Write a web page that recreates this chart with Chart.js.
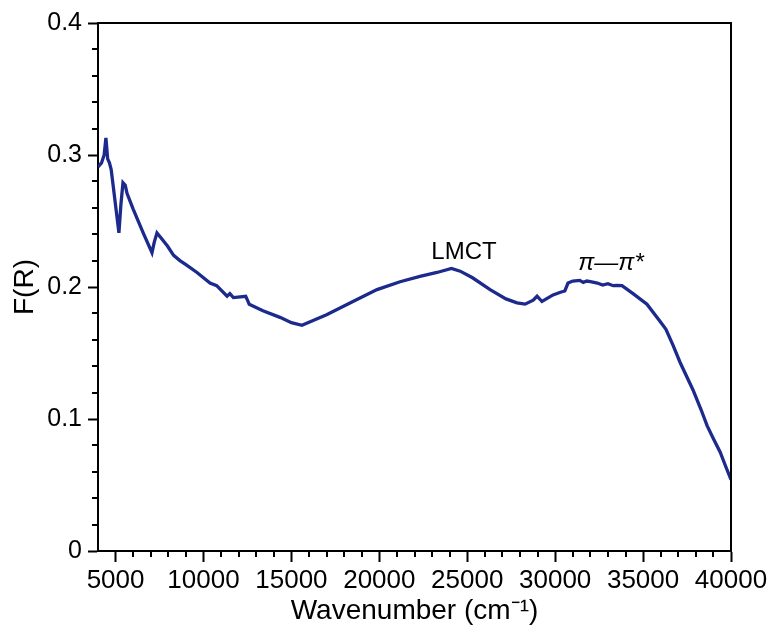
<!DOCTYPE html>
<html>
<head>
<meta charset="utf-8">
<script src="https://cdn.jsdelivr.net/npm/chart.js@4.4.0/dist/chart.umd.min.js"></script>
<style>
  body { margin: 0; background: #fff; }
  #wrap { width: 772px; height: 632px; }
</style>
</head>
<body>
<div id="wrap"><canvas id="spectrumChart" width="772" height="632"></canvas></div>
<script>
// Kubelka-Munk spectrum, values
const wavenumber = [
  4000, 4200, 4350, 4450, 4550, 4650, 4750, 5190, 5300, 5420,
  5550, 5650, 6000, 6570, 7070, 7200, 7355, 7600, 7950, 8300,
  8660, 9000, 9630, 10370, 10750, 11340, 11500, 11700, 12400, 12500,
  12600, 13380, 14350, 15000, 15600, 16300, 17000, 18500, 19870, 21180,
  22310, 23280, 24100, 24600, 25300, 26300, 27200, 27830, 28290, 28750,
  28970, 29250, 29880, 30300, 30550, 30730, 31000, 31400, 31600, 31800,
  32000, 32400, 32700, 33000, 33300, 33500, 33800, 34430, 35220, 35960,
  36300, 36700, 37100, 37840, 38300, 38640, 39000, 39380, 39700, 40000
];
const fr = [
  0.291, 0.294, 0.300, 0.313, 0.297, 0.294, 0.289, 0.241, 0.262, 0.279,
  0.277, 0.271, 0.259, 0.241, 0.226, 0.234, 0.241, 0.237, 0.231, 0.224,
  0.220, 0.217, 0.211, 0.203, 0.201, 0.193, 0.195, 0.192, 0.193, 0.190,
  0.187, 0.182, 0.177, 0.173, 0.171, 0.175, 0.179, 0.189, 0.198, 0.204,
  0.208, 0.211, 0.214, 0.212, 0.207, 0.198, 0.191, 0.188, 0.187, 0.190,
  0.193, 0.189, 0.194, 0.196, 0.197, 0.203, 0.2045, 0.205, 0.2035, 0.2045,
  0.204, 0.203, 0.2015, 0.2025, 0.201, 0.2012, 0.201, 0.195, 0.187, 0.174,
  0.168, 0.156, 0.143, 0.122, 0.107, 0.095, 0.085, 0.075, 0.064, 0.054
];

const xMajorTicks = [5000, 10000, 15000, 20000, 25000, 30000, 35000, 40000];
const yMajorTicks = [0, 0.1, 0.2, 0.3, 0.4];

// band labels placed in data coordinates (baseline)
const bandLabels = ['LMCT', 'π—π*'];
const bandX = [24815, 33176];
const bandY = [0.221, 0.213];
const bandItalic = [false, true];

const lineColor = '#1b2a8c';
const fontFamily = '"Liberation Sans", Arial, Helvetica, sans-serif';

// box around plot, minor ticks and band labels
const framePlugin = {
  id: 'frame',
  afterDatasetsDraw(chart) {
    const { ctx, chartArea, scales } = chart;
    const xs = scales.x;
    const ys = scales.y;
    ctx.save();
    ctx.strokeStyle = '#000';
    ctx.lineWidth = 2;
    ctx.beginPath();
    ctx.moveTo(chartArea.left, chartArea.top);
    ctx.lineTo(chartArea.right, chartArea.top);
    ctx.lineTo(chartArea.right, chartArea.bottom);
    ctx.stroke();

    ctx.beginPath();
    for (let v = 4000; v <= 40000; v += 1000) {
      if (v % 5000 === 0 || v === 4000) continue;
      const px = Math.round(xs.getPixelForValue(v));
      ctx.moveTo(px, chartArea.bottom);
      ctx.lineTo(px, chartArea.bottom + 6);
    }
    for (let i = 1; i < 20; i++) {
      if (i % 5 === 0) continue;
      const py = Math.round(ys.getPixelForValue(i * 0.02));
      ctx.moveTo(chartArea.left, py);
      ctx.lineTo(chartArea.left - 6, py);
    }
    ctx.stroke();

    ctx.fillStyle = '#000';
    ctx.textAlign = 'center';
    ctx.textBaseline = 'alphabetic';
    bandLabels.forEach((label, i) => {
      ctx.font = (bandItalic[i] ? 'italic ' : '') + '24px ' + fontFamily;
      ctx.fillText(label, xs.getPixelForValue(bandX[i]), ys.getPixelForValue(bandY[i]));
    });
    ctx.restore();
  }
};

const ctx = document.getElementById('spectrumChart');
new Chart(ctx, {
  type: 'line',
  data: {
    datasets: [{
      data: wavenumber.map((x, i) => ({ x: x, y: fr[i] })),
      borderColor: lineColor,
      borderWidth: 3.3,
      pointRadius: 0,
      fill: false,
      tension: 0,
    }]
  },
  options: {
    responsive: false,
    devicePixelRatio: 1,
    animation: false,
    layout: { padding: { top: 23, right: 41, bottom: 0, left: 0 } },
    plugins: {
      legend: { display: false },
      tooltip: { enabled: false },
    },
    scales: {
      x: {
        type: 'linear',
        min: 4000,
        max: 40000,
        afterBuildTicks: (scale) => {
          scale.ticks = xMajorTicks.map((v) => ({ value: v }));
        },
        afterFit: (scale) => { scale.height = 81; },
        grid: {
          drawOnChartArea: false,
          drawTicks: true,
          tickLength: 11,
          tickWidth: 2,
          tickColor: '#000',
        },
        border: { display: true, color: '#000', width: 2 },
        ticks: {
          color: '#000',
          padding: 3,
          maxRotation: 0,
          autoSkip: false,
          font: { family: fontFamily, size: 26 },
          callback: (v) => String(v),
        },
        title: {
          display: true,
          text: 'Wavenumber (cm⁻¹)',
          color: '#000',
          padding: { top: 0, bottom: 4 },
          font: { family: fontFamily, size: 28 },
        },
      },
      y: {
        min: 0,
        max: 0.4,
        afterBuildTicks: (scale) => {
          scale.ticks = yMajorTicks.map((v) => ({ value: v }));
        },
        afterFit: (scale) => { scale.width = 98; },
        grid: {
          drawOnChartArea: false,
          drawTicks: true,
          tickLength: 10,
          tickWidth: 2,
          tickColor: '#000',
        },
        border: { display: true, color: '#000', width: 2 },
        ticks: {
          color: '#000',
          padding: 6,
          font: { family: fontFamily, size: 25 },
          callback: (v) => (v === 0 ? '0' : v.toFixed(1)),
        },
        title: {
          display: true,
          text: 'F(R)',
          color: '#000',
          padding: { top: 8, bottom: 0 },
          font: { family: fontFamily, size: 28 },
        },
      },
    },
  },
  plugins: [framePlugin],
});
</script>
</body>
</html>
